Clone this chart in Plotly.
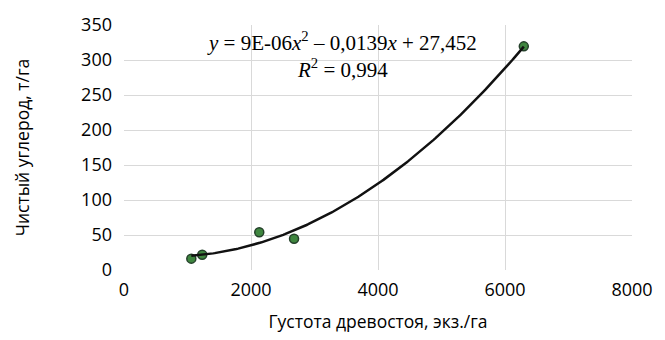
import numpy as np
import plotly.graph_objects as go

# Stand density (trees/ha) and net carbon (t/ha)
density = [1060, 1232, 2130, 2678, 6296]
carbon = [16.2, 21.7, 54, 44.7, 319.5]

x_ticks = [0, 2000, 4000, 6000, 8000]
y_ticks = [0, 50, 100, 150, 200, 250, 300, 350]

# Second-order polynomial trendline
coef = np.polyfit(density, carbon, 2)
xs = np.linspace(min(density), max(density), 200)
ys = np.polyval(coef, xs)

fig = go.Figure()
fig.add_trace(go.Scatter(
    x=density, y=carbon, mode="markers",
    marker=dict(size=9, color="#3f863f", line=dict(color="#24402a", width=1.5)),
    showlegend=False,
))
fig.add_trace(go.Scatter(
    x=xs, y=ys, mode="lines",
    line=dict(color="#111111", width=2.5),
    showlegend=False,
))

# Trendline equation and coefficient of determination
fig.add_annotation(
    x=3440, y=307, xanchor="center", yanchor="middle",
    text=("<i>y</i> = 9E-06<i>x</i><sup>2</sup> – 0,0139<i>x</i> + 27,452"
          "<br><i>R</i><sup>2</sup> = 0,994"),
    showarrow=False, align="center",
    font=dict(family="Liberation Serif", size=21, color="#000000"),
)

axis_common = dict(
    showgrid=True, gridcolor="#d9d9d9", gridwidth=1,
    zeroline=False, showline=False, ticks="",
    tickfont=dict(family="Open Sans", size=18, color="#000000"),
)
title_font = dict(family="Open Sans", size=17.5, color="#000000")

fig.update_layout(
    width=665, height=340,
    margin=dict(l=124, r=31, t=17, b=70),
    paper_bgcolor="white", plot_bgcolor="white",
    xaxis=dict(range=[0, 8000], tickvals=x_ticks, ticklabelstandoff=7,
               title=dict(text="Густота древостоя, экз./га", font=title_font,
                          standoff=15),
               **axis_common),
    yaxis=dict(range=[0, 350], tickvals=y_ticks, ticklabelstandoff=11,
               title=dict(text="Чистый углерод, т/га", font=title_font,
                          standoff=46),
               **axis_common),
)

fig.write_html("out.html")
